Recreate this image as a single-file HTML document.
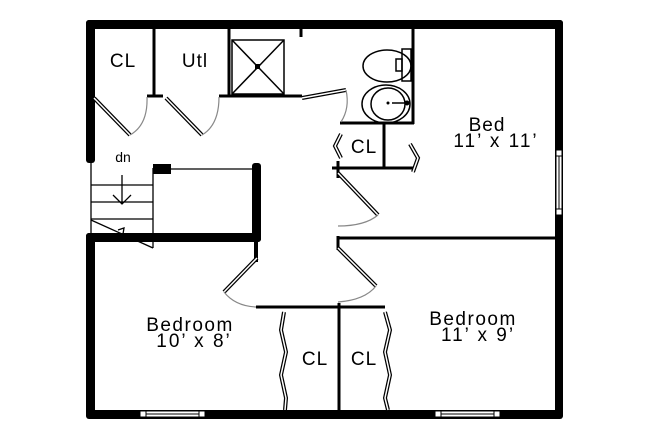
<!DOCTYPE html>
<html><head><style>
html,body{margin:0;padding:0;background:#fff;}
svg{display:block;}
text{font-family:"Liberation Sans",sans-serif;fill:#000;}
</style></head><body>
<svg width="650" height="433" viewBox="0 0 650 433" xmlns="http://www.w3.org/2000/svg">
<g fill="#000">
<rect x="86" y="20" width="477" height="9" rx="3"/>
<rect x="86" y="20" width="9" height="143" rx="3"/>
<rect x="555" y="20" width="8" height="398" rx="3"/>
<rect x="86" y="410" width="477" height="9" rx="3"/>
<rect x="86" y="233" width="9" height="185" rx="3"/>
<rect x="86" y="233" width="175" height="9" rx="3"/>
<rect x="252" y="163" width="9" height="79" rx="3"/>
<rect x="254" y="240" width="4" height="22"/>
<rect x="153" y="164" width="18" height="10"/>
</g>
<g fill="#fff" stroke="#000" stroke-width="1">
<rect x="140" y="411" width="65" height="6"/>
<rect x="435" y="411" width="65" height="6"/>
<rect x="556" y="150" width="6" height="65"/>
</g>
<g stroke="#000" stroke-width="1">
<line x1="146" y1="411" x2="146" y2="417"/><line x1="199" y1="411" x2="199" y2="417"/>
<line x1="146" y1="414" x2="199" y2="414"/>
<line x1="441" y1="411" x2="441" y2="417"/><line x1="494" y1="411" x2="494" y2="417"/>
<line x1="441" y1="414" x2="494" y2="414"/>
<line x1="556" y1="156" x2="562" y2="156"/><line x1="556" y1="209" x2="562" y2="209"/>
<line x1="559" y1="156" x2="559" y2="209"/>
</g>
<g stroke="#000" stroke-width="3" fill="none">
<line x1="154" y1="28" x2="154" y2="97"/>
<line x1="229" y1="28" x2="229" y2="97"/>
<line x1="147" y1="96" x2="163" y2="96"/>
<line x1="219" y1="96" x2="302" y2="96"/>
<line x1="413" y1="28" x2="413" y2="124"/>
<line x1="340" y1="123" x2="414" y2="123"/>
<line x1="384" y1="123" x2="384" y2="168"/>
<line x1="332" y1="168" x2="413" y2="168"/>
<line x1="338" y1="161" x2="338" y2="178"/>
<line x1="338" y1="238" x2="556" y2="238"/>
<line x1="338" y1="236" x2="338" y2="250"/>
<line x1="256" y1="307" x2="385" y2="307"/>
<line x1="339" y1="303" x2="339" y2="411"/>
<line x1="301" y1="28" x2="301" y2="37"/>
</g>
<g stroke="#000" stroke-width="1.3" fill="none">
<line x1="91" y1="163" x2="91" y2="233"/>
<line x1="153" y1="168" x2="153" y2="248"/>
<line x1="91" y1="185" x2="153" y2="185"/>
<line x1="91" y1="202" x2="153" y2="202"/>
<line x1="91" y1="219" x2="153" y2="219"/>
<line x1="91" y1="220" x2="153" y2="248"/>
<line x1="171" y1="169" x2="256" y2="169"/>
<line x1="122" y1="175" x2="122" y2="204"/>
<polyline points="113,195 122,204 131,195"/>
<polyline points="118,230 124,228 123,234"/>
</g>
<g stroke="#000" stroke-width="1.5" fill="none">
<rect x="232" y="40" width="52" height="54"/>
<line x1="232" y1="40" x2="284" y2="94"/><line x1="284" y1="40" x2="232" y2="94"/>
</g>
<rect x="255" y="64" width="5" height="5" fill="#000"/>
<g stroke="#000" stroke-width="1.5" fill="none">
<ellipse cx="387" cy="66" rx="24" ry="16"/>
<rect x="402" y="49" width="9" height="32"/>
<rect x="396" y="59" width="6" height="12"/>
<ellipse cx="386" cy="104" rx="24" ry="19"/>
<ellipse cx="388" cy="104" rx="17" ry="16"/>
<line x1="392" y1="103" x2="407" y2="103"/>
</g>
<circle cx="388" cy="103" r="1.5"/><circle cx="407" cy="103" r="2.5"/>
<g stroke="#000" stroke-width="4" fill="none">
<line x1="94" y1="98" x2="130" y2="135"/>
<line x1="166" y1="98" x2="202" y2="135"/>
<line x1="302" y1="98" x2="346" y2="90"/>
<line x1="338" y1="173" x2="378" y2="215"/>
<line x1="257" y1="258" x2="224" y2="292"/>
<line x1="338" y1="248" x2="376" y2="286"/>
<polyline points="341,134 335,146 341,158"/>
<polyline points="410,144 418,158 413,172"/>
<polyline points="284,312 281,330 286,352 281,375 286,398 285,410"/>
<polyline points="385,312 390,330 385,352 390,375 385,398 388,410"/>
</g>
<g stroke="#fff" stroke-width="1.5" fill="none">
<line x1="94" y1="98" x2="130" y2="135"/>
<line x1="166" y1="98" x2="202" y2="135"/>
<line x1="302" y1="98" x2="346" y2="90"/>
<line x1="338" y1="173" x2="378" y2="215"/>
<line x1="257" y1="258" x2="224" y2="292"/>
<line x1="338" y1="248" x2="376" y2="286"/>
<polyline points="341,134 335,146 341,158"/>
<polyline points="410,144 418,158 413,172"/>
<polyline points="284,312 281,330 286,352 281,375 286,398 285,410"/>
<polyline points="385,312 390,330 385,352 390,375 385,398 388,410"/>
</g>
<g stroke="#888" stroke-width="1.2" fill="none">
<path d="M130,135 Q148,125 147,97"/>
<path d="M202,135 Q219,125 219,97"/>
<path d="M346,90 Q350,108 341,122"/>
<path d="M378,215 Q365,226 338,226"/>
<path d="M224,292 Q235,306 256,307"/>
<path d="M376,286 Q365,300 338,302"/>
</g>
<g font-size="19" letter-spacing="1">
<text x="123" y="67" text-anchor="middle">CL</text>
<text x="195" y="67" text-anchor="middle">Utl</text>
<text x="123" y="162" text-anchor="middle" font-size="14" letter-spacing="0">dn</text>
<text x="364" y="153" text-anchor="middle">CL</text>
<text x="487" y="131" text-anchor="middle">Bed</text>
<text x="496" y="147" text-anchor="middle" letter-spacing="2">11’ x 11’</text>
<text x="190" y="331" text-anchor="middle" letter-spacing="1.5">Bedroom</text>
<text x="194" y="347" text-anchor="middle" letter-spacing="2">10’ x 8’</text>
<text x="473" y="325" text-anchor="middle" letter-spacing="1.5">Bedroom</text>
<text x="478" y="341" text-anchor="middle" letter-spacing="2">11’ x 9’</text>
<text x="315" y="365" text-anchor="middle">CL</text>
<text x="364" y="365" text-anchor="middle">CL</text>
</g>
</svg>
</body></html>
